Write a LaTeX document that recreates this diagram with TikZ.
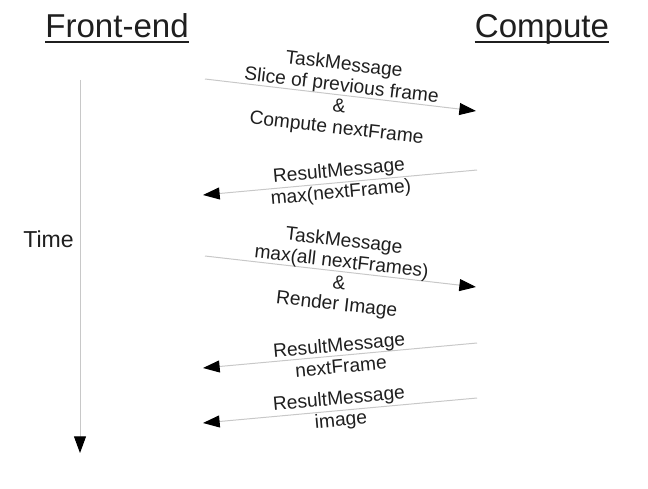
\documentclass[tikz,border=0pt]{standalone}
\usepackage{fontspec}
\setmainfont{Liberation Sans}
\usetikzlibrary{arrows.meta}
\begin{document}
\begin{tikzpicture}[x=0.75pt,y=-0.75pt,
  msg/.style={draw={rgb,255:red,200;green,200;blue,200},line width=0.75pt,
    -{Triangle[length=12.5pt,width=9pt,color=black]}},
  lbl/.style={sloped,align=center,inner sep=0pt,text=black!88,
    font=\fontsize{14.4}{16}\selectfont},
  title/.style={text=black!88,inner sep=0pt,font=\fontsize{24.8}{28}\selectfont},
  uline/.style={draw=black!88,line width=1.3pt}]
\useasboundingbox (0,0) rectangle (648,488);
% titles
\node[title,anchor=base] (fe) at (117,38) {Front-end};
\node[title,anchor=base] (cp) at (542,38) {Compute};
\draw[uline] ([yshift=-3pt]fe.base west) -- ([yshift=-3pt]fe.base east);
\draw[uline] ([yshift=-3pt]cp.base west) -- ([yshift=-3pt]cp.base east);
\node[anchor=base,inner sep=0pt,text=black!88,font=\fontsize{17.3}{20}\selectfont] (time) at (48.5,247) {Time};
% time axis
\coordinate (t0) at (80,80);
\coordinate (t1) at (80,453);
\draw[msg] (t0) -- (t1);
% message end points
\coordinate (a1) at (205,79);  \coordinate (b1) at (476,111);
\coordinate (a2) at (477,170); \coordinate (b2) at (203,195);
\coordinate (a3) at (205,256); \coordinate (b3) at (476,287);
\coordinate (a4) at (477,343); \coordinate (b4) at (203,368);
\coordinate (a5) at (477,398); \coordinate (b5) at (203,423);
\draw[msg] (a1) -- node[lbl,yshift=-1.5pt] (l1) {TaskMessage\\Slice of previous frame\\\&\\Compute nextFrame} (b1);
\draw[msg] (a2) -- node[lbl] (l2) {ResultMessage\\max(nextFrame)} (b2);
\draw[msg] (a3) -- node[lbl,yshift=-1.5pt] (l3) {TaskMessage\\max(all nextFrames)\\\&\\Render Image} (b3);
\draw[msg] (a4) -- node[lbl] (l4) {ResultMessage\\nextFrame} (b4);
\draw[msg] (a5) -- node[lbl] (l5) {ResultMessage\\image} (b5);
\end{tikzpicture}
\end{document}
